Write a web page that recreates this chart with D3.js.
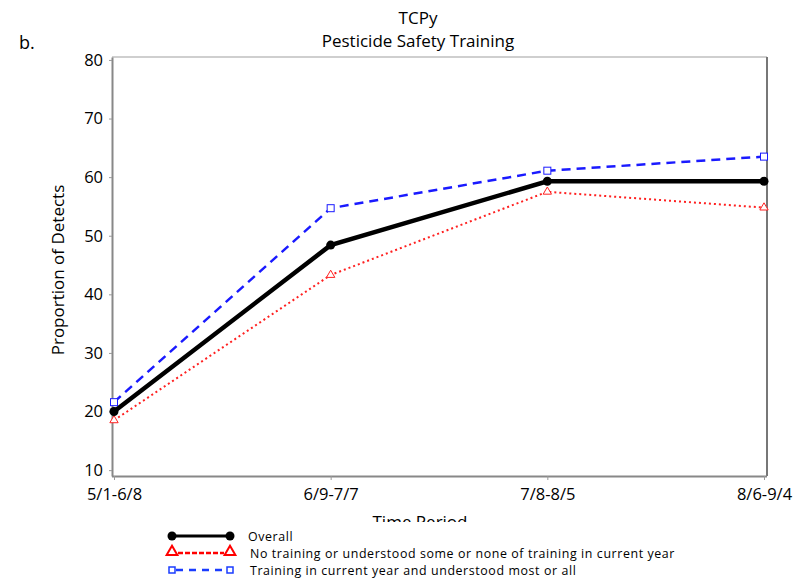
<!DOCTYPE html>
<html>
<head>
<meta charset="utf-8">
<script src="https://cdn.jsdelivr.net/npm/d3@7"></script>
<style>
body { margin: 0; background: #fff; }
svg { font-family: "Open Sans", sans-serif; }
</style>
</head>
<body>
<svg width="795" height="582"></svg>
<script>
// chart data
var periods = ["5/1-6/8", "6/9-7/7", "7/8-8/5", "8/6-9/4"];
var overall = [20.0, 48.4, 59.3, 59.3];
var noTraining = [18.5, 43.3, 57.5, 54.8];
var training = [21.6, 54.7, 61.1, 63.5];
var yTicks = [10, 20, 30, 40, 50, 60, 70, 80];
var legendLabels = ["Overall",
    "No training or understood some or none of training in current year",
    "Training in current year and understood most or all"];

var svg = d3.select("svg");
var plotL = 112, plotR = 767, plotT = 57, plotB = 476;

var x = d3.scalePoint().domain(periods).range([114, 764]);
var y = d3.scaleLinear().domain([9, 80.5]).range([plotB, plotT]);

// frame
svg.append("line").attr("x1", plotL).attr("x2", plotR).attr("y1", plotT).attr("y2", plotT)
    .attr("stroke", "#cfcfcf").attr("stroke-width", 2);
svg.append("line").attr("x1", plotR).attr("x2", plotR).attr("y1", plotT).attr("y2", plotB)
    .attr("stroke", "#777").attr("stroke-width", 2);

// axes
var yAxis = svg.append("g").attr("transform", "translate(" + plotL + ",0)")
    .call(d3.axisLeft(y).tickValues(yTicks).tickSize(3).tickSizeOuter(0));
var xAxis = svg.append("g").attr("transform", "translate(0," + plotB + ")")
    .call(d3.axisBottom(x).tickSize(4).tickSizeOuter(0));
xAxis.select(".domain").attr("d", "M" + plotL + ",0.5H" + plotR);
[yAxis, xAxis].forEach(function(a) {
    a.select(".domain").attr("stroke", "#888").attr("stroke-width", 2);
    a.selectAll(".tick line").attr("stroke", "#999");
    a.selectAll("text").attr("fill", "#000").style("font-size", "16.5px")
        .style("font-family", "'Open Sans', sans-serif");
});
yAxis.selectAll("text").attr("x", -9);
xAxis.selectAll("text").attr("y", 12);

// series
function drawSeries(vals, color, width, dash) {
    var line = d3.line().x(function(d, i) { return x(periods[i]); }).y(function(d) { return y(d); });
    svg.append("path").datum(vals).attr("d", line).attr("fill", "none")
        .attr("stroke", color).attr("stroke-width", width).attr("stroke-dasharray", dash);
}
drawSeries(noTraining, "#ff2020", 2, "2,3");
drawSeries(training, "#1a1aff", 2.5, "9,6");
drawSeries(overall, "#000", 4.5, null);

var tri = d3.symbol().type(d3.symbolTriangle).size(30);
svg.append("g").selectAll("path").data(noTraining).enter().append("path")
    .attr("d", tri)
    .attr("transform", function(d, i) { return "translate(" + x(periods[i]) + "," + y(d) + ")"; })
    .attr("fill", "#fff").attr("stroke", "#ff2020").attr("stroke-width", 1);
svg.append("g").selectAll("rect").data(training).enter().append("rect")
    .attr("x", function(d, i) { return x(periods[i]) - 3.5; })
    .attr("y", function(d) { return y(d) - 3.5; })
    .attr("width", 7).attr("height", 7)
    .attr("fill", "#fff").attr("stroke", "#1a1aff").attr("stroke-width", 1);
svg.append("g").selectAll("circle").data(overall).enter().append("circle")
    .attr("cx", function(d, i) { return x(periods[i]); })
    .attr("cy", function(d) { return y(d); })
    .attr("r", 4.5).attr("fill", "#000");

// titles
svg.append("text").attr("x", 418).attr("y", 24).attr("text-anchor", "middle")
    .style("font-size", "17px").text("TCPy");
svg.append("text").attr("x", 418).attr("y", 47).attr("text-anchor", "middle")
    .style("font-size", "17px").text("Pesticide Safety Training");
svg.append("text").attr("x", 19).attr("y", 49).style("font-size", "18px").text("b.");
svg.append("text").attr("transform", "translate(64,270) rotate(-90)")
    .attr("text-anchor", "middle").style("font-size", "17px").text("Proportion of Detects");

// x title, cut off by the legend below it
svg.append("clipPath").attr("id", "xclip").append("rect")
    .attr("x", 0).attr("y", 500).attr("width", 795).attr("height", 22);
svg.append("text").attr("x", 420).attr("y", 528).attr("text-anchor", "middle")
    .attr("clip-path", "url(#xclip)").style("font-size", "17px").text("Time Period");

// legend
var lg = svg.append("g").attr("transform", "translate(172,536)");
var rowH = 17;
lg.append("line").attr("x1", 0).attr("x2", 58).attr("y1", 0).attr("y2", 0)
    .attr("stroke", "#000").attr("stroke-width", 3);
[0, 58].forEach(function(px) {
    lg.append("circle").attr("cx", px).attr("cy", 0).attr("r", 4.5).attr("fill", "#000");
});
lg.append("line").attr("x1", 6).attr("x2", 52).attr("y1", rowH).attr("y2", rowH)
    .attr("stroke", "#ff0000").attr("stroke-width", 2.5).attr("stroke-dasharray", "5,2");
[0, 58].forEach(function(px) {
    lg.append("path").attr("d", d3.symbol().type(d3.symbolTriangle).size(50))
        .attr("transform", "translate(" + px + "," + (rowH - 1) + ")")
        .attr("fill", "#fff").attr("stroke", "#ff0000").attr("stroke-width", 2);
});
lg.append("line").attr("x1", 4).attr("x2", 54).attr("y1", rowH * 2).attr("y2", rowH * 2)
    .attr("stroke", "#1a3cff").attr("stroke-width", 2.5).attr("stroke-dasharray", "7,6");
[0, 58].forEach(function(px) {
    lg.append("rect").attr("x", px - 3).attr("y", rowH * 2 - 3).attr("width", 6).attr("height", 6)
        .attr("fill", "#fff").attr("stroke", "#1a3cff").attr("stroke-width", 1.5);
});
legendLabels.forEach(function(t, i) {
    lg.append("text").attr("x", i == 0 ? 76 : 78).attr("y", i * rowH + 4.5)
        .style("font-size", "12.4px").style("letter-spacing", "0.6px").text(t);
});
</script>
</body>
</html>
